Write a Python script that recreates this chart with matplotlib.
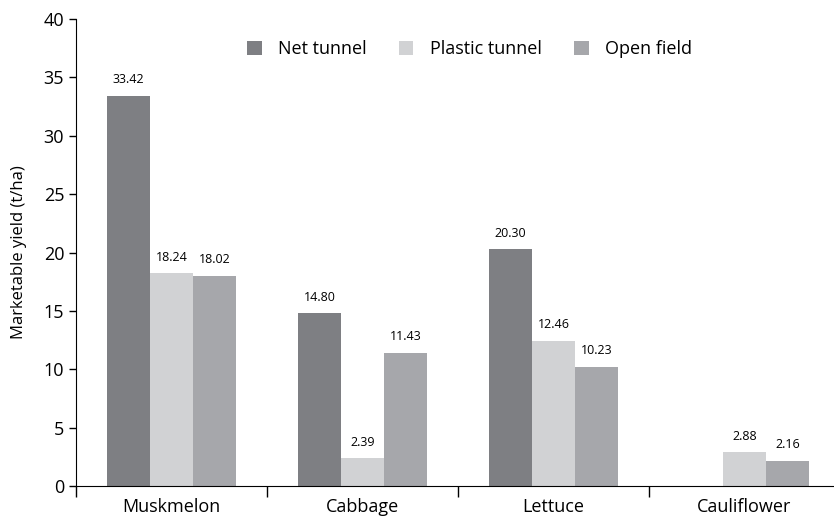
import numpy as np
import matplotlib.pyplot as plt

crops = ['Muskmelon', 'Cabbage', 'Lettuce', 'Cauliflower']
net_tunnel = [33.42, 14.80, 20.30, np.nan]
plastic_tunnel = [18.24, 2.39, 12.46, 2.88]
open_field = [18.02, 11.43, 10.23, 2.16]

series = [('Net tunnel', net_tunnel, '#7e7f83'),
          ('Plastic tunnel', plastic_tunnel, '#d1d2d4'),
          ('Open field', open_field, '#a6a7ab')]

plt.rcParams['font.family'] = ['Open Sans', 'DejaVu Sans']

fig = plt.figure(figsize=(8.34, 5.22), dpi=100)
ax = fig.add_axes([76 / 834, 36 / 522, 764 / 834, 467 / 522])

x = np.arange(len(crops))
width = 0.225
for i, (name, vals, color) in enumerate(series):
    pos = x + (i - 1) * width
    bars = ax.bar(pos, vals, width, color=color, label=name)
    for b, v in zip(bars, vals):
        if np.isnan(v):
            continue
        ax.text(b.get_x() + b.get_width() / 2, v + 0.8, f'{v:.2f}',
                ha='center', va='bottom', fontsize=9)

ax.set_xlim(-0.5, 3.5)
ax.set_ylim(0, 40)
ax.set_yticks(range(0, 41, 5))
ax.tick_params(axis='y', labelsize=13, length=5, width=1)

# category labels sit between the boundary ticks
ax.set_xticks(np.arange(-0.5, 3.5, 1))
ax.set_xticklabels([])
ax.tick_params(axis='x', length=8, width=1)
ax.set_xticks(x, minor=True)
ax.set_xticklabels(crops, minor=True, fontsize=13)
ax.tick_params(axis='x', which='minor', length=0, pad=9)

ax.spines['top'].set_visible(False)
ax.spines['right'].set_visible(False)
ax.set_ylabel('Marketable yield (t/ha)', fontsize=12, labelpad=12)

ax.legend(loc='upper center', bbox_to_anchor=(0.515, 0.99), ncol=3,
          frameon=False, fontsize=13, handlelength=0.8, handleheight=0.8,
          columnspacing=1.8, handletextpad=0.9)

fig.savefig('out.png')
